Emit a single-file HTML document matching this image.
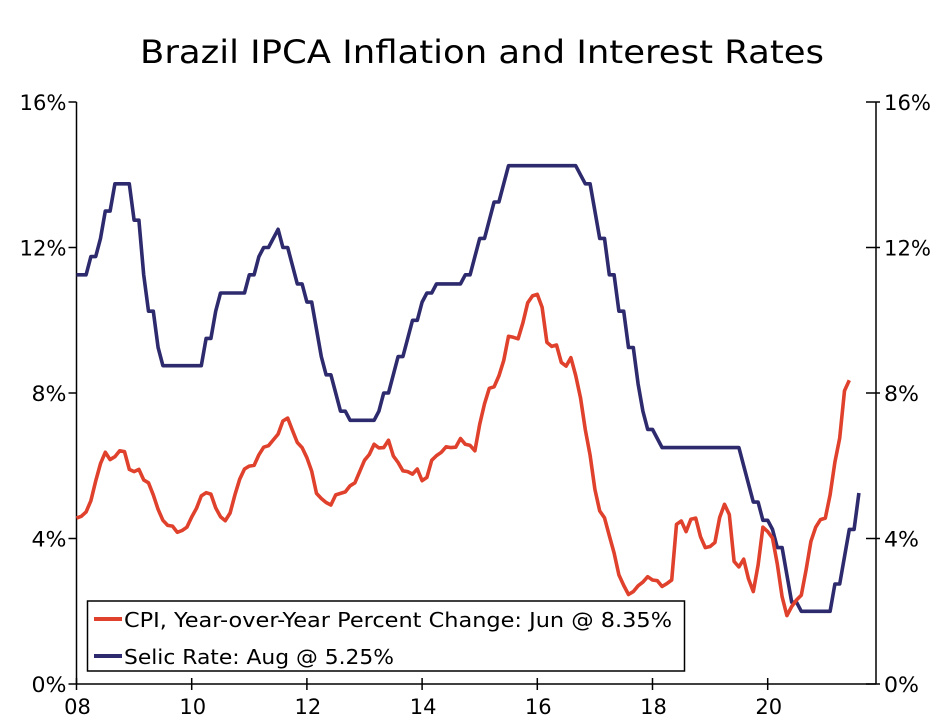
<!DOCTYPE html>
<html><head><meta charset="utf-8"><style>
html,body{margin:0;padding:0;background:#fff}
svg{display:block;font-family:"DejaVu Sans","Liberation Sans",sans-serif}
</style></head><body>
<svg id="chart" width="946" height="726" viewBox="0 0 946 726">
<text x="482" y="63" font-size="32" text-anchor="middle" textLength="684" lengthAdjust="spacingAndGlyphs">Brazil IPCA Inflation and Interest Rates</text>
<g id="axes"></g>
<g id="series"></g>
<g>
<rect x="87.5" y="601" width="597" height="70" fill="#fff" stroke="#000" stroke-width="1.5"/>
<line x1="94" y1="619" x2="122" y2="619" stroke="#e0412c" stroke-width="4"/>
<text x="124" y="627" font-size="20" textLength="548" lengthAdjust="spacingAndGlyphs">CPI, Year-over-Year Percent Change: Jun @ 8.35%</text>
<line x1="94" y1="656" x2="122" y2="656" stroke="#2e2a6e" stroke-width="4"/>
<text x="124" y="664" font-size="20" textLength="270" lengthAdjust="spacingAndGlyphs">Selic Rate: Aug @ 5.25%</text>
</g>
</svg>
<script>
const yTicks=[0,4,8,12,16];
const xTickLabels=["08","10","12","14","16","18","20"];
const cpi=[4.56,4.61,4.73,5.04,5.58,6.06,6.37,6.17,6.25,6.41,6.39,5.90,
5.84,5.90,5.61,5.53,5.20,4.80,4.50,4.36,4.34,4.17,4.22,4.31,
4.59,4.83,5.17,5.26,5.22,4.84,4.60,4.49,4.70,5.20,5.63,5.91,
5.99,6.01,6.30,6.51,6.55,6.71,6.87,7.23,7.31,6.97,6.64,6.50,
6.22,5.85,5.24,5.10,4.99,4.92,5.20,5.24,5.28,5.45,5.53,5.84,
6.15,6.31,6.59,6.49,6.50,6.70,6.27,6.09,5.86,5.84,5.77,5.91,
5.59,5.68,6.15,6.28,6.37,6.52,6.50,6.51,6.75,6.59,6.56,6.41,
7.14,7.70,8.13,8.17,8.47,8.89,9.56,9.53,9.49,9.93,10.48,10.67,
10.71,10.36,9.39,9.28,9.32,8.84,8.74,8.97,8.48,7.87,6.99,6.29,
5.35,4.76,4.57,4.08,3.60,3.00,2.71,2.46,2.54,2.70,2.80,2.95,
2.86,2.84,2.68,2.76,2.86,4.39,4.48,4.19,4.53,4.56,4.05,3.75,
3.78,3.89,4.58,4.94,4.66,3.37,3.22,3.43,2.89,2.54,3.27,4.31,
4.19,4.01,3.30,2.40,1.88,2.13,2.31,2.44,3.14,3.92,4.31,4.52,
4.56,5.20,6.10,6.76,8.06,8.35];
const selic=[11.25,11.25,11.25,11.75,11.75,12.25,13.0,13.0,13.75,13.75,13.75,13.75,
12.75,12.75,11.25,10.25,10.25,9.25,8.75,8.75,8.75,8.75,8.75,8.75,
8.75,8.75,8.75,9.5,9.5,10.25,10.75,10.75,10.75,10.75,10.75,10.75,
11.25,11.25,11.75,12.0,12.0,12.25,12.5,12.0,12.0,11.5,11.0,11.0,
10.5,10.5,9.75,9.0,8.5,8.5,8.0,7.5,7.5,7.25,7.25,7.25,
7.25,7.25,7.25,7.5,8.0,8.0,8.5,9.0,9.0,9.5,10.0,10.0,
10.5,10.75,10.75,11.0,11.0,11.0,11.0,11.0,11.0,11.25,11.25,11.75,
12.25,12.25,12.75,13.25,13.25,13.75,14.25,14.25,14.25,14.25,14.25,14.25,
14.25,14.25,14.25,14.25,14.25,14.25,14.25,14.25,14.25,14.0,13.75,13.75,
13.0,12.25,12.25,11.25,11.25,10.25,10.25,9.25,9.25,8.25,7.5,7.0,
7.0,6.75,6.5,6.5,6.5,6.5,6.5,6.5,6.5,6.5,6.5,6.5,
6.5,6.5,6.5,6.5,6.5,6.5,6.5,6.0,5.5,5.0,5.0,4.5,
4.5,4.25,3.75,3.75,3.0,2.25,2.25,2.0,2.0,2.0,2.0,2.0,
2.0,2.0,2.75,2.75,3.5,4.25,4.25,5.25];

const L=76.5,R=876,T=102,B=684,M=4.8;
const xs=m=>L+m*M;
const ys=v=>B-(B-T)*v/16;
const NS="http://www.w3.org/2000/svg";
const axes=document.getElementById('axes');
const ser=document.getElementById('series');
function mk(tag,attrs,parent){const e=document.createElementNS(NS,tag);for(const k in attrs)e.setAttribute(k,attrs[k]);parent.appendChild(e);return e;}

let e=mk('line',{x1:L,y1:T,x2:L,y2:B,stroke:'#000','stroke-width':1.5},axes);


e=mk('line',{x1:R,y1:T,x2:R,y2:B,stroke:'#000','stroke-width':1.5},axes);


e=mk('line',{x1:L,y1:B,x2:R,y2:B,stroke:'#000','stroke-width':1.5},axes);



yTicks.forEach(v=>{
  const y=ys(v);
  mk('line',{x1:L-8,y1:y,x2:L,y2:y,stroke:'#000','stroke-width':1.5},axes);
  mk('line',{x1:R-10,y1:y,x2:R+4,y2:y,stroke:'#000','stroke-width':1.5},axes);
  let t=mk('text',{x:L-10,y:y+8,'font-size':21,'text-anchor':'end',textLength:(v>=10?47:35),lengthAdjust:'spacingAndGlyphs'},axes);
  t.textContent=v+'%';
  
  
  t=mk('text',{x:R+8,y:y+8,'font-size':21,'text-anchor':'start',textLength:(v>=10?47:35),lengthAdjust:'spacingAndGlyphs'},axes);
  t.textContent=v+'%';
  
  
});
xTickLabels.forEach((lab,i)=>{
  const x=xs(i*24);
  mk('line',{x1:x,y1:B-6,x2:x,y2:B+6,stroke:'#000','stroke-width':1.5},axes);
  const t=mk('text',{x:x+1,y:B+30,'font-size':21,'text-anchor':'middle'},axes);
  t.textContent=lab;
  
  
});

function line(data,color,name){
  const pts=data.map((v,i)=>xs(i).toFixed(1)+','+ys(v).toFixed(1)).join(' ');
  const p=mk('polyline',{points:pts,fill:'none',stroke:color,'stroke-width':3.6,'stroke-linejoin':'round'},ser);
  
  
}
line(selic,'#2e2a6e','selic-line');
line(cpi,'#e0412c','cpi-line');
</script>
</body></html>
